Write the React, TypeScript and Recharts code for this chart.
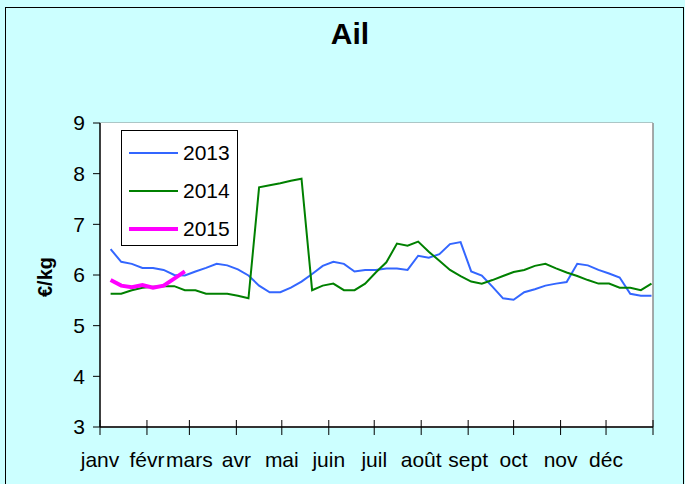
import { LineChart, Line, XAxis, YAxis, CartesianGrid, ReferenceLine } from "recharts";

/* Ail · weekly price €/kg — Excel-style chart
 * bg cyan #ccffff, plot white, grid gray, series blue / green / magenta */
const BG = "#ccffff";
const GRID = "#8c8c8c";
const BLUE = "#3366ff";
const GREEN = "#008000";
const MAGENTA = "#ff00ff";
const FONT = "'Liberation Sans', Arial, sans-serif";

const MONTHS = ["janv", "févr", "mars", "avr", "mai", "juin", "juil", "août", "sept", "oct", "nov", "déc", ""];
const MONTH_START_DAYS = [0, 31, 59, 90, 120, 151, 181, 212, 243, 273, 304, 334, 365];
const Y_TICKS = [3, 4, 5, 6, 7, 8, 9];

const P2013 = [
  6.51, 6.26, 6.22, 6.14, 6.14, 6.1, 6.0, 5.99, 6.07, 6.14, 6.22, 6.19, 6.11,
  5.99, 5.79, 5.66, 5.66, 5.75, 5.87, 6.02, 6.18, 6.26, 6.22, 6.07, 6.1, 6.1,
  6.13, 6.13, 6.1, 6.38, 6.34, 6.41, 6.61, 6.65, 6.07, 5.99, 5.77, 5.54, 5.51,
  5.66, 5.72, 5.79, 5.83, 5.86, 6.22, 6.19, 6.1, 6.03, 5.95, 5.63, 5.59, 5.59,
];
const P2014 = [
  5.63, 5.63, 5.7, 5.75, 5.77, 5.78, 5.78, 5.7, 5.7, 5.63, 5.63, 5.63, 5.59,
  5.54, 7.73, 7.77, 7.81, 7.86, 7.9, 5.7, 5.79, 5.83, 5.7, 5.7, 5.83, 6.05,
  6.25, 6.62, 6.58, 6.66, 6.46, 6.28, 6.1, 5.98, 5.87, 5.83, 5.9, 5.98, 6.06,
  6.1, 6.18, 6.22, 6.13, 6.05, 5.98, 5.9, 5.83, 5.83, 5.75, 5.75, 5.7, 5.83,
];
const P2015 = [5.9, 5.79, 5.76, 5.8, 5.75, 5.79, 5.93, 6.07];

// one point per week, placed on a day-of-year axis
const data = P2013.map((v, i) => ({
  day: 7 * (i + 1),
  y2013: v,
  y2014: P2014[i],
  y2015: P2015[i],
}));

const SERIES = [
  { key: "y2013", name: "2013", color: BLUE, width: 2 },
  { key: "y2014", name: "2014", color: GREEN, width: 2 },
  { key: "y2015", name: "2015", color: MAGENTA, width: 4 },
];

function MonthTick(props: any) {
  const { x, y, payload } = props;
  const idx = MONTH_START_DAYS.indexOf(payload.value);
  return (
    <g>
      <line x1={x} x2={x} y1={y - 7} y2={y + 8} stroke="#000" strokeWidth={1} />
      <text x={x} y={y + 40} textAnchor="middle" fontSize={21} fontFamily={FONT} fill="#000">
        {MONTHS[idx]}
      </text>
    </g>
  );
}

export default function App() {
  return (
    <div style={{ position: "fixed", left: 0, top: 0, width: 685, height: 484, background: BG, overflow: "hidden" }}>
      {/* chart frame */}
      <div style={{ position: "absolute", left: 5, top: 7, width: 677, height: 490, border: "1px solid #000" }} />
      <div
        style={{
          position: "absolute", left: 0, width: 700, top: 17, textAlign: "center",
          fontFamily: FONT, fontWeight: "bold", fontSize: 30, color: "#000",
        }}
      >
        Ail
      </div>
      <div
        style={{
          position: "absolute", left: 45, top: 277, transform: "translate(-50%, -50%) rotate(-90deg)",
          fontFamily: FONT, fontWeight: "bold", fontSize: 20, color: "#000", whiteSpace: "nowrap",
        }}
      >
        €/kg
      </div>
      <LineChart
        width={685}
        height={484}
        data={data}
        margin={{ top: 123, right: 32, bottom: 17, left: 0 }}
        style={{ position: "absolute", left: 0, top: 0 }}
      >
        <rect x={100} y={123} width={553} height={304} fill="#fff" />
        <CartesianGrid stroke={GRID} vertical={false} fill="#fff" />
        <XAxis
          dataKey="day"
          type="number"
          domain={[0, 365]}
          ticks={MONTH_START_DAYS}
          interval={0}
          height={40}
          tickSize={0}
          tickMargin={0}
          tick={<MonthTick />}
          axisLine={{ stroke: "#333", strokeWidth: 2 }}
          allowDataOverflow
        />
        <YAxis
          domain={[3, 9]}
          ticks={Y_TICKS}
          width={100}
          tickSize={7}
          tickMargin={8}
          tick={{ fontSize: 21, fontFamily: FONT, fill: "#000" }}
          tickLine={{ stroke: "#000" }}
          axisLine={{ stroke: "#000", strokeWidth: 1.5 }}
          allowDataOverflow
        />
        <ReferenceLine x={365} stroke={GRID} strokeWidth={1.5} />
        {SERIES.map((s) => (
          <Line
            key={s.key}
            type="linear"
            dataKey={s.key}
            name={s.name}
            stroke={s.color}
            strokeWidth={s.width}
            dot={false}
            activeDot={false}
            isAnimationActive={false}
          />
        ))}
      </LineChart>
      {/* legend box, top-left inside plot */}
      <div
        style={{
          position: "absolute", left: 121, top: 130, width: 115, height: 114,
          background: "#fff", border: "1.5px solid #000",
        }}
      >
        {SERIES.map((s, i) => (
          <div key={s.key} style={{ position: "absolute", left: 0, top: 9 + i * 38, height: 26, width: 115 }}>
            <div
              style={{
                position: "absolute", left: 7, top: 13 - s.width / 2, width: 49,
                height: s.width, background: s.color,
              }}
            />
            <div
              style={{
                position: "absolute", left: 61, top: 0, lineHeight: "26px",
                fontFamily: FONT, fontSize: 21, color: "#000",
              }}
            >
              {s.name}
            </div>
          </div>
        ))}
      </div>
    </div>
  );
}
